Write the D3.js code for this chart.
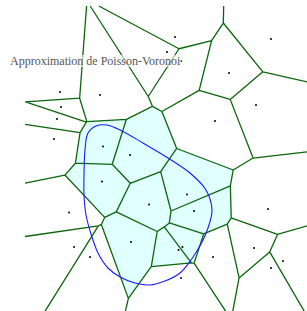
<!DOCTYPE html>
<html>
<head>
<meta charset="utf-8">
<script src="https://cdn.jsdelivr.net/npm/d3@7"></script>
<style>
  body { margin: 0; background: #fff; }
  svg { display: block; }
</style>
</head>
<body>
<div id="chart"></div>
<script>
// Poisson points (generators of the Voronoi cells)
const seedX = [60, 61, 57, 54, 100, 103, 130, 102, 149, 69, 131, 74, 90, 187, 194, 182.5, 178.5,
               213, 181, 268, 254, 283, 271, 175, 167, 181, 271, 229, 256, 215];
const seedY = [92, 107, 119, 139, 95, 146.5, 155, 181.5, 204.5, 212.5, 242, 247, 257, 194.5, 211, 247, 250,
               257, 278, 209, 248, 261, 268, 37, 52, 61, 39, 73, 105, 121];

// the set being approximated (closed curve)
const curveX = [85, 88, 96, 107, 120, 143, 168, 190, 206, 212, 208, 201, 191, 180, 165, 150, 135, 120, 108, 98, 91, 86, 84, 84];
const curveY = [150, 133, 126, 125, 130, 143, 158, 173, 190, 210, 228, 244, 260, 273, 281, 285, 283, 277, 268, 253, 234, 215, 195, 175];

// observation window
const windowX = [25, 310];
const windowY = [6, 315];

const title = "Approximation de Poisson-Voronoi";

const W = 307, H = 311;

const x = d3.scaleLinear().domain(windowX).range([25, 310]);
const y = d3.scaleLinear().domain(windowY).range([6, 315]);

const svg = d3.select("#chart")
    .append("svg")
    .attr("width", W)
    .attr("height", H);

const pts = seedX.map((d, i) => [x(d), y(seedY[i])]);
const delaunay = d3.Delaunay.from(pts);
const voronoi = delaunay.voronoi([x(windowX[0]), y(windowY[0]), x(windowX[1]), y(windowY[1])]);

// curve path, drawn later but needed for the inside test
const curvePts = curveX.map((d, i) => [x(d), y(curveY[i])]);
const curveLine = d3.line().curve(d3.curveCatmullRomClosed);

const gFill = svg.append("g");
const gEdges = svg.append("g");
const curve = svg.append("path")
    .attr("d", curveLine(curvePts))
    .attr("fill", "none")
    .attr("stroke", "#1a1aff")
    .attr("stroke-width", 1.1);

// sample the curve to test which points fall inside
const node = curve.node();
const len = node.getTotalLength();
const poly = d3.range(0, len, 1).map(l => {
    const p = node.getPointAtLength(l);
    return [p.x, p.y];
});

gFill.selectAll("path")
    .data(pts.map((p, i) => i).filter(i => d3.polygonContains(poly, pts[i])))
    .join("path")
    .attr("d", i => voronoi.renderCell(i))
    .attr("fill", "#e0ffff")
    .attr("stroke", "none");

gEdges.append("path")
    .attr("d", voronoi.render())
    .attr("fill", "none")
    .attr("stroke", "#0b650b")
    .attr("stroke-width", 1.3);

svg.append("g")
    .selectAll("circle")
    .data(pts)
    .join("circle")
    .attr("cx", d => d[0])
    .attr("cy", d => d[1])
    .attr("r", 1)
    .attr("fill", "#000");

// title with a light white backing
const label = svg.append("g");
const bg = label.append("rect");
const txt = label.append("text")
    .attr("x", 10)
    .attr("y", 65)
    .attr("font-family", "'Liberation Serif', serif")
    .attr("font-size", 12)
    .attr("fill", "#555")
    .text(title);
const bb = txt.node().getBBox();
bg.attr("x", bb.x)
    .attr("y", bb.y + 1)
    .attr("width", bb.width)
    .attr("height", bb.height - 2)
    .attr("fill", "#fff")
    .attr("opacity", 0.6);
</script>
</body>
</html>
